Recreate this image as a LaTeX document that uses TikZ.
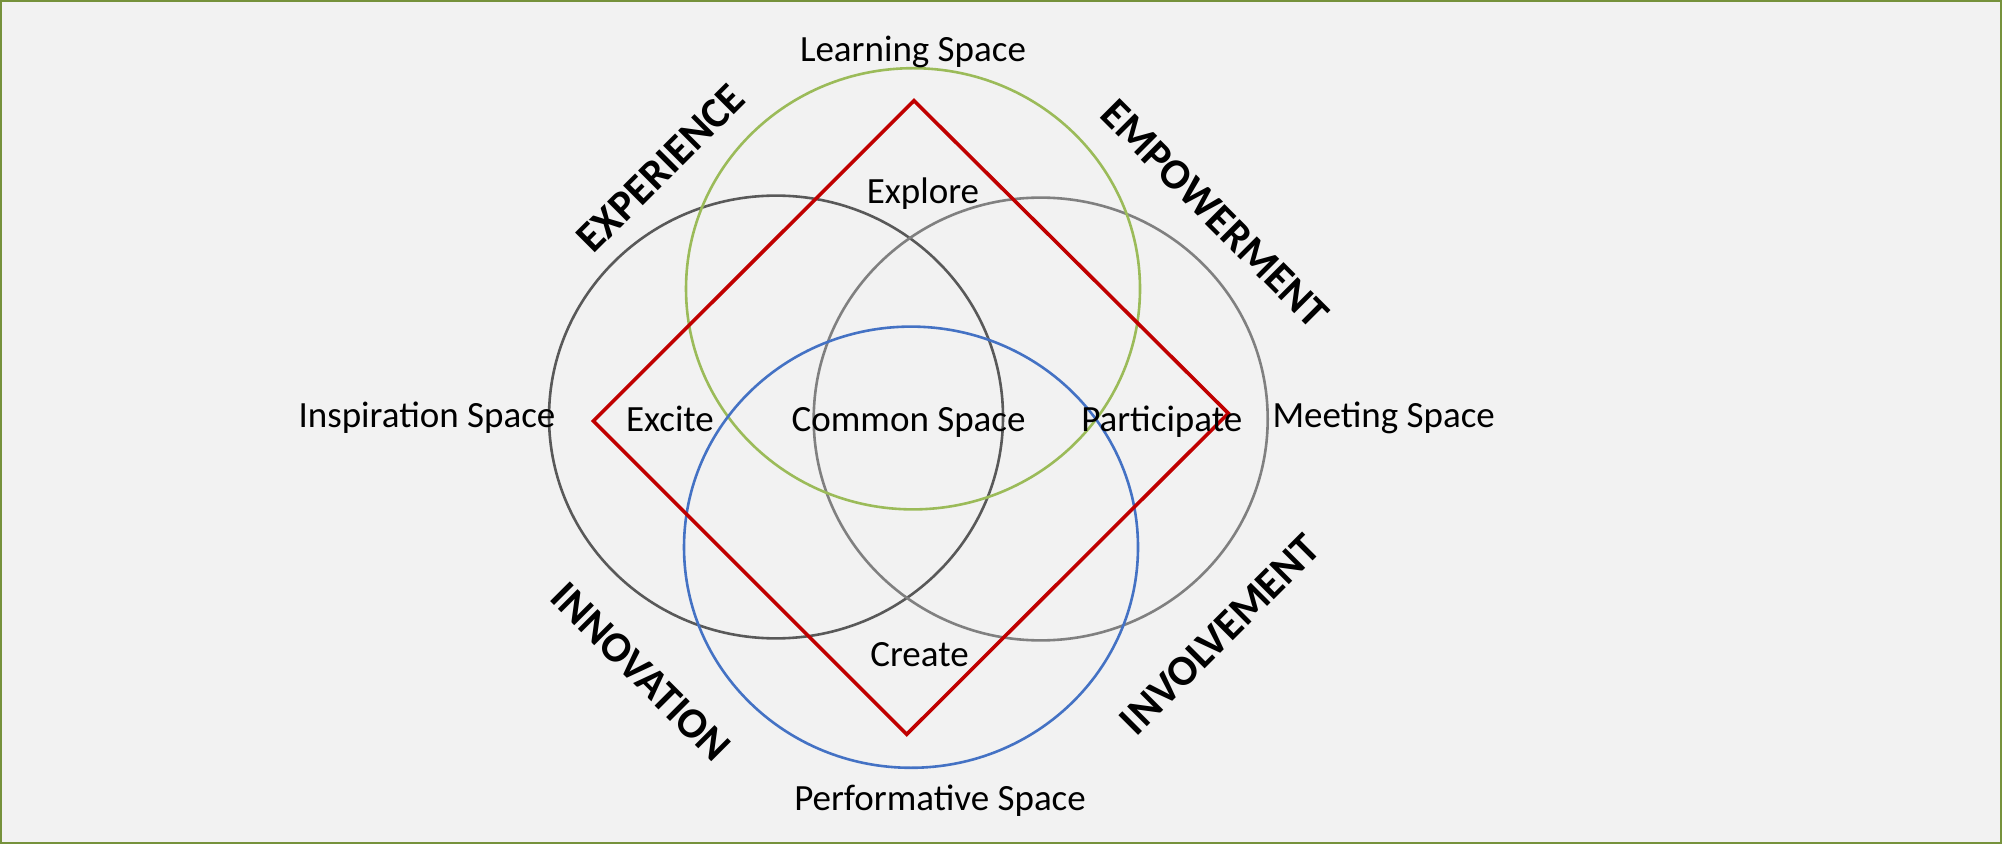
\documentclass[tikz,border=0pt]{standalone}
\usepackage{fontspec}
\setmainfont{Carlito}
\definecolor{bgc}{HTML}{F2F2F2}
\definecolor{framec}{HTML}{76923C}
\definecolor{learnc}{HTML}{9BBB59}
\definecolor{inspc}{HTML}{595959}
\definecolor{meetc}{HTML}{808080}
\definecolor{perfc}{HTML}{4472C4}
\definecolor{diamc}{HTML}{C00000}
\tikzset{
  ring/.style={line width=1.3pt},
  diamline/.style={draw=diamc, line width=1.8pt, line join=miter},
  lbl/.style={font=\fontsize{18.5}{22}\selectfont, inner sep=0pt, anchor=base},
  axislbl/.style={font=\fontsize{21.5}{26}\selectfont\bfseries, inner sep=0pt, anchor=center}
}
\begin{document}
\begin{tikzpicture}[x=0.5pt,y=-0.5pt]
\useasboundingbox (0,0) rectangle (2002,844);
\fill[bgc] (0,0) rectangle (2002,844);
\draw[framec, line width=1.2pt] (1.2,1.2) rectangle (2000.8,842.8);

% circles
\draw[ring, inspc] (776,417) ellipse [x radius=113.5pt, y radius=110.7pt];
\draw[ring, meetc] (1040.7,419) ellipse [x radius=113.5pt, y radius=110.7pt];
\draw[ring, learnc] (913,288.8) ellipse [x radius=113.5pt, y radius=110.3pt];
\draw[ring, perfc] (911,547.2) ellipse [x radius=113.5pt, y radius=110.3pt];

% diamond
\coordinate (dT) at (914,100.7);
\coordinate (dR) at (1228.3,413.3);
\coordinate (dB) at (906.7,734.3);
\coordinate (dL) at (593.3,421);
\draw[diamline] (dT) -- (dR) -- (dB) -- (dL) -- cycle;

% space labels
\node[lbl] (learning) at (913,62) {Learning Space};
\node[lbl] (inspiration) at (427,428) {Inspiration Space};
\node[lbl] (meeting) at (1383.7,428) {Meeting Space};
\node[lbl] (performative) at (940,810) {Performative Space};

% inner labels
\node[lbl] (explore) at (923,204) {Explore};
\node[lbl] (excite) at (670,431) {Excite};
\node[lbl] (common) at (908.6,431) {Common Space};
\node[lbl] (participate) at (1161.7,431) {Participate};
\node[lbl] (create) at (919.5,666.5) {Create};

% axis labels
\node[axislbl, rotate=45] (experience) at (660.8,168.3) {EXPERIENCE};
\node[axislbl, rotate=-45] (empowerment) at (1215,214) {EMPOWERMENT};
\node[axislbl, rotate=-45] (innovation) at (640.8,671.7) {INNOVATION};
\node[axislbl, rotate=45] (involvement) at (1220,634.2) {INVOLVEMENT};
\end{tikzpicture}
\end{document}
